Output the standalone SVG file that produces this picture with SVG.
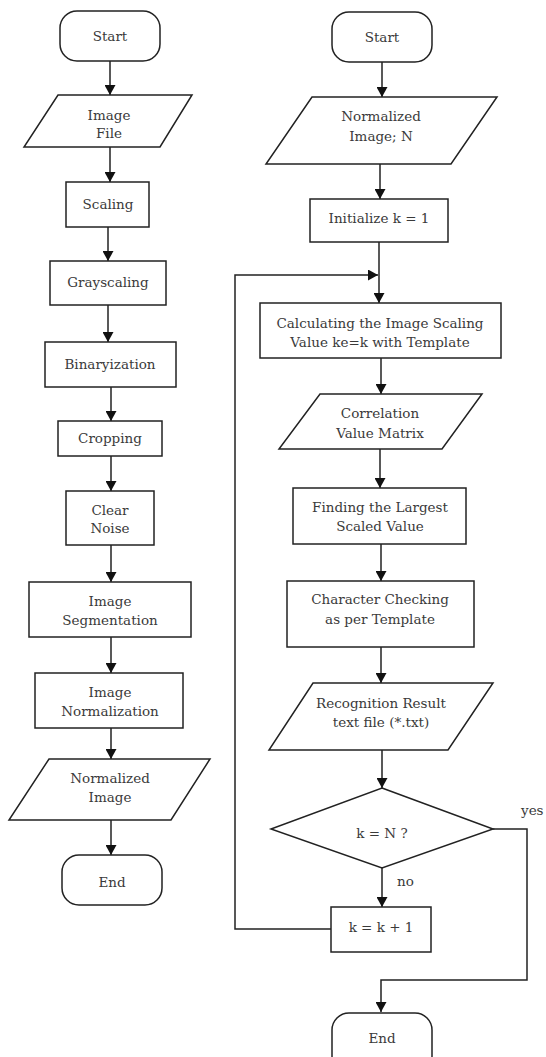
<svg xmlns="http://www.w3.org/2000/svg" width="546" height="1057" viewBox="0 0 546 1057">
<defs>
<style>
.s{fill:#fff;stroke:#222;stroke-width:1.5}
.c{fill:none;stroke:#222;stroke-width:1.5}
text{font-family:"DejaVu Serif","Liberation Serif",serif;font-size:13.5px;fill:#3a3a3a;text-anchor:middle}
.l{text-anchor:start}
</style>
<marker id="a" markerUnits="userSpaceOnUse" markerWidth="11" markerHeight="11" refX="10" refY="5.5" orient="auto"><path d="M0,0 L10,5.5 L0,11 z" fill="#111"/></marker>
</defs>
<rect width="546" height="1057" fill="#fff"/>
<g id="connectors">
<line class="c" x1="110" y1="61" x2="110" y2="95" marker-end="url(#a)"/>
<line class="c" x1="110" y1="147" x2="110" y2="182" marker-end="url(#a)"/>
<line class="c" x1="108" y1="227" x2="108" y2="261" marker-end="url(#a)"/>
<line class="c" x1="108" y1="305" x2="108" y2="342" marker-end="url(#a)"/>
<line class="c" x1="111" y1="387" x2="111" y2="421" marker-end="url(#a)"/>
<line class="c" x1="111" y1="456" x2="111" y2="491" marker-end="url(#a)"/>
<line class="c" x1="111" y1="545" x2="111" y2="582" marker-end="url(#a)"/>
<line class="c" x1="111" y1="637" x2="111" y2="673" marker-end="url(#a)"/>
<line class="c" x1="111" y1="728" x2="111" y2="759" marker-end="url(#a)"/>
<line class="c" x1="111" y1="820" x2="111" y2="855" marker-end="url(#a)"/>
<line class="c" x1="382" y1="62" x2="382" y2="97" marker-end="url(#a)"/>
<line class="c" x1="380" y1="164" x2="380" y2="199" marker-end="url(#a)"/>
<line class="c" x1="379" y1="242" x2="379" y2="303" marker-end="url(#a)"/>
<path class="c" d="M331,929 H235 V275 H378" marker-end="url(#a)"/>
<line class="c" x1="381" y1="358" x2="381" y2="394" marker-end="url(#a)"/>
<line class="c" x1="380" y1="449" x2="380" y2="488" marker-end="url(#a)"/>
<line class="c" x1="381" y1="544" x2="381" y2="581" marker-end="url(#a)"/>
<line class="c" x1="381" y1="647" x2="381" y2="683" marker-end="url(#a)"/>
<line class="c" x1="382" y1="750" x2="382" y2="788" marker-end="url(#a)"/>
<line class="c" x1="382" y1="868" x2="382" y2="907" marker-end="url(#a)"/>
<path class="c" d="M493,829 H527 V980 H381 V1012" marker-end="url(#a)"/>
<text x="397" y="886" class="l">no</text>
<text x="521" y="815" class="l">yes</text>
</g>
<g id="start1"><rect class="s" x="60" y="11" width="100" height="50" rx="17"/><text x="110" y="41">Start</text></g>
<g id="imagefile"><polygon class="s" points="58,95 192,95 160,147 24,147"/><text x="109" y="120">Image</text><text x="109" y="138">File</text></g>
<g id="scaling"><rect class="s" x="66" y="182" width="83" height="45"/><text x="108" y="209">Scaling</text></g>
<g id="grayscaling"><rect class="s" x="50" y="261" width="116" height="44"/><text x="108" y="287">Grayscaling</text></g>
<g id="binaryization"><rect class="s" x="45" y="342" width="131" height="45"/><text x="110" y="369">Binaryization</text></g>
<g id="cropping"><rect class="s" x="58" y="421" width="104" height="35"/><text x="110" y="443">Cropping</text></g>
<g id="clearnoise"><rect class="s" x="66" y="491" width="88" height="54"/><text x="110" y="515">Clear</text><text x="110" y="533">Noise</text></g>
<g id="segmentation"><rect class="s" x="29" y="582" width="162" height="55"/><text x="110" y="606">Image</text><text x="110" y="625">Segmentation</text></g>
<g id="normalization"><rect class="s" x="35" y="673" width="148" height="55"/><text x="110" y="697">Image</text><text x="110" y="716">Normalization</text></g>
<g id="normimage1"><polygon class="s" points="49,759 210,759 171,820 9,820"/><text x="110" y="783">Normalized</text><text x="110" y="802">Image</text></g>
<g id="end1"><rect class="s" x="62" y="855" width="100" height="50" rx="17"/><text x="112" y="887">End</text></g>
<g id="start2"><rect class="s" x="332" y="12" width="100" height="50" rx="17"/><text x="382" y="42">Start</text></g>
<g id="normimageN"><polygon class="s" points="312,97 497,97 451,164 266,164"/><text x="381" y="121">Normalized</text><text x="381" y="141">Image; N</text></g>
<g id="init"><rect class="s" x="310" y="199" width="138" height="43"/><text x="379" y="223">Initialize k = 1</text></g>
<g id="calc"><rect class="s" x="260" y="303" width="241" height="55"/><text x="380" y="328">Calculating the Image Scaling</text><text x="380" y="347">Value ke=k with Template</text></g>
<g id="corr"><polygon class="s" points="320,394 482,394 442,449 279,449"/><text x="380" y="418">Correlation</text><text x="380" y="438">Value Matrix</text></g>
<g id="finding"><rect class="s" x="293" y="488" width="173" height="56"/><text x="380" y="512">Finding the Largest</text><text x="380" y="531">Scaled Value</text></g>
<g id="checking"><rect class="s" x="287" y="581" width="187" height="66"/><text x="380" y="604">Character Checking</text><text x="380" y="624">as per Template</text></g>
<g id="result"><polygon class="s" points="313,683 493,683 448,750 269,750" /><text x="381" y="708">Recognition Result</text><text x="381" y="727">text file (*.txt)</text></g>
<g id="decision"><polygon class="s" points="382,788 493,829 382,868 271,829"/><text x="382" y="838">k = N ?</text></g>
<g id="inc"><rect class="s" x="331" y="907" width="100" height="45"/><text x="381" y="932">k = k + 1</text></g>
<g id="end2"><rect class="s" x="332" y="1013" width="100" height="60" rx="17"/><text x="382" y="1043">End</text></g>
</svg>
